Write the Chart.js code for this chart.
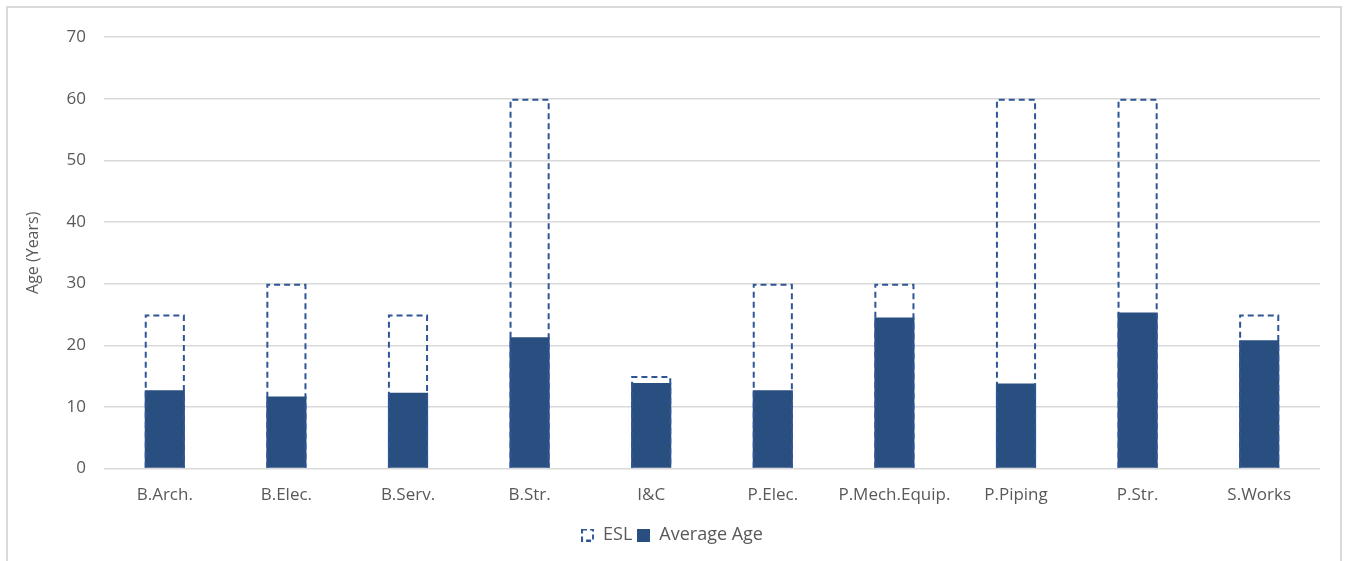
<!DOCTYPE html>
<html>
<head>
<meta charset="utf-8">
<script src="https://cdn.jsdelivr.net/npm/chart.js@4"></script>
<style>
  html, body { margin: 0; padding: 0; background: #ffffff; }
  #wrap { position: relative; width: 1346px; height: 561px; overflow: hidden; }
  #frame { position: absolute; left: 6px; top: 6px; width: 1336px; height: 600px;
           border: 2px solid #d9d9d9; box-sizing: border-box; pointer-events: none; }
  #box { position: absolute; left: 0; top: 0; width: 1346px; height: 561px; }
</style>
</head>
<body>
<div id="wrap">
  <div id="frame"></div>
  <div id="box"><canvas id="chart"></canvas></div>
</div>
<script>
// Asset classes and their expected service life vs. average age (years)
const categories = ['B.Arch.', 'B.Elec.', 'B.Serv.', 'B.Str.', 'I&C', 'P.Elec.', 'P.Mech.Equip.', 'P.Piping', 'P.Str.', 'S.Works'];
const eslValues = [25, 30, 25, 60, 15, 30, 30, 60, 60, 25];
const avgAgeValues = [12.7, 11.7, 12.3, 21.3, 13.9, 12.7, 24.5, 13.8, 25.3, 20.8];
const yMin = 0;
const yMax = 70;
const yStep = 10;

const FILL = '#294e80';
const DASH = '#2f5597';
const TEXT = '#595959';
const GRID = '#d9d9d9';
const FONT = "'Open Sans', 'DejaVu Sans', sans-serif";

// Small legend icon: open dashed square for ESL
function makeDashedIcon() {
  const c = document.createElement('canvas');
  c.width = 13; c.height = 13;
  const g = c.getContext('2d');
  g.strokeStyle = DASH;
  g.lineWidth = 2;
  g.setLineDash([5, 3]);
  g.strokeRect(1, 1, 11, 11);
  return c;
}
function makeSolidIcon() {
  const c = document.createElement('canvas');
  c.width = 13; c.height = 13;
  const g = c.getContext('2d');
  g.fillStyle = FILL;
  g.fillRect(0, 0, 13, 13);
  return c;
}
const dashedIcon = makeDashedIcon();
const solidIcon = makeSolidIcon();

// Draws a dashed outline around every bar of datasets flagged with dashedOutline
const dashedBarOutline = {
  id: 'dashedBarOutline',
  afterDatasetsDraw(chart) {
    const ctx = chart.ctx;
    chart.data.datasets.forEach((ds, di) => {
      if (!ds.dashedOutline) return;
      const meta = chart.getDatasetMeta(di);
      if (meta.hidden) return;
      meta.data.forEach(el => {
        const p = el.getProps(['x', 'y', 'base', 'width'], true);
        const lw = 2;
        const left = p.x - p.width / 2 + lw / 2;
        const right = p.x + p.width / 2 - lw / 2;
        const top = Math.min(p.y, p.base) + lw / 2;
        const bottom = Math.max(p.y, p.base);
        ctx.save();
        ctx.strokeStyle = DASH;
        ctx.lineWidth = lw;
        ctx.setLineDash([6, 4]);
        ctx.beginPath();
        ctx.moveTo(left, bottom);
        ctx.lineTo(left, top);
        ctx.lineTo(right, top);
        ctx.lineTo(right, bottom);
        ctx.stroke();
        ctx.restore();
      });
    });
  }
};

new Chart(document.getElementById('chart'), {
  type: 'bar',
  data: {
    labels: categories,
    datasets: [
      {
        label: 'ESL',
        data: eslValues,
        backgroundColor: 'rgba(0,0,0,0)',
        borderWidth: 0,
        dashedOutline: true,
        pointStyle: dashedIcon,
        grouped: false,
        order: 1
      },
      {
        label: 'Average Age',
        data: avgAgeValues,
        backgroundColor: FILL,
        borderWidth: 0,
        pointStyle: solidIcon,
        grouped: false,
        order: 2
      }
    ]
  },
  options: {
    responsive: true,
    maintainAspectRatio: false,
    animation: false,
    categoryPercentage: 1.0,
    barPercentage: 0.33,
    layout: { padding: { left: 24, right: 26, top: 37, bottom: 7 } },
    plugins: {
      legend: {
        position: 'bottom',
        labels: {
          usePointStyle: true,
          color: TEXT,
          font: { family: FONT, size: 18 },
          boxWidth: 13,
          boxHeight: 13,
          padding: 5
        }
      },
      tooltip: { enabled: false }
    },
    scales: {
      x: {
        grid: { display: false, drawTicks: false },
        border: { display: false },
        ticks: { color: TEXT, font: { family: FONT, size: 17 }, padding: 16 }
      },
      y: {
        min: yMin,
        max: yMax,
        ticks: { stepSize: yStep, color: TEXT, font: { family: FONT, size: 17 }, padding: 18 },
        grid: { color: GRID, lineWidth: 1.5, drawTicks: false },
        border: { display: false },
        title: {
          display: true,
          text: 'Age (Years)',
          color: TEXT,
          font: { family: FONT, size: 16 },
          padding: { top: 0, bottom: 4 }
        },
        afterFit(scale) { scale.width = 80; }
      }
    }
  },
  plugins: [dashedBarOutline]
});
</script>
</body>
</html>
